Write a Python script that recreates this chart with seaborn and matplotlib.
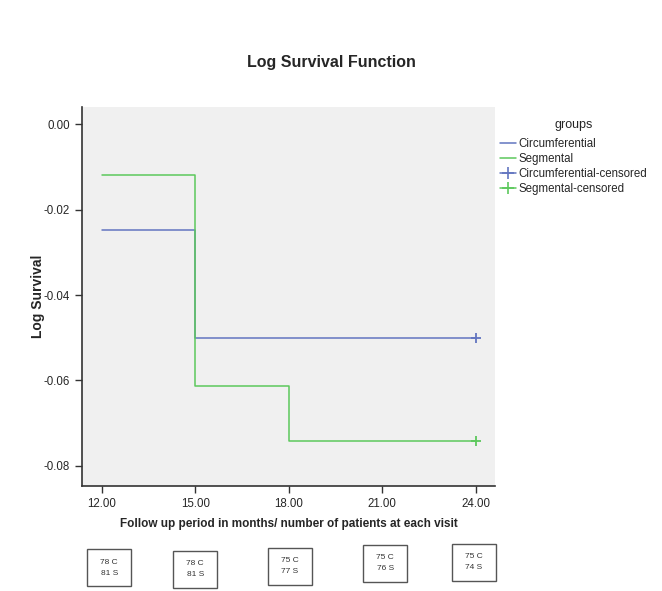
import pandas as pd
import seaborn as sns
import matplotlib.pyplot as plt
from matplotlib.lines import Line2D
from matplotlib.patches import Rectangle

months = [12, 15, 18, 24]
circumferential = [-0.0247, -0.0501, -0.0501, -0.0501]
segmental = [-0.0119, -0.0613, -0.0742, -0.0742]
censor_month = 24
censor_circ = -0.0501
censor_seg = -0.0742
box_labels = [('78 C', '81 S'), ('78 C', '81 S'), ('75 C', '77 S'),
              ('75 C', '76 S'), ('75 C', '74 S')]
xticks = [12, 15, 18, 21, 24]
yticks = [0.0, -0.02, -0.04, -0.06, -0.08]

blue = '#6275c0'
green = '#5cc85c'

df = pd.DataFrame({
    'month': months * 2,
    'log_surv': circumferential + segmental,
    'group': ['Circumferential'] * len(months) + ['Segmental'] * len(months),
})

sns.set_style('ticks')
plt.rcParams['font.family'] = ['Liberation Sans', 'DejaVu Sans']

fig = plt.figure(figsize=(6.62, 5.91), dpi=100)
ax = fig.add_axes([0.1234, 0.178, 0.625, 0.641])
ax.set_facecolor('#f0f0f0')

sns.lineplot(data=df, x='month', y='log_surv', hue='group',
             palette={'Circumferential': blue, 'Segmental': green},
             drawstyle='steps-post', linewidth=1.1, legend=False, ax=ax)
ax.plot([censor_month], [censor_circ], marker='+', color=blue, ms=7, mew=1.3)
ax.plot([censor_month], [censor_seg], marker='+', color=green, ms=7, mew=1.3)

ax.set_xlim(11.36, 24.63)
ax.set_ylim(-0.0847, 0.0041)
ax.set_xticks(xticks)
ax.set_xticklabels([f'{t:.2f}' for t in xticks])
ax.set_yticks(yticks)
ax.set_yticklabels([f'{t:.2f}' for t in yticks])
ax.tick_params(labelsize=8.3, length=5, width=1, color='#333333')
for side in ['top', 'right']:
    ax.spines[side].set_visible(False)
for side in ['left', 'bottom']:
    ax.spines[side].set_color('#333333')
    ax.spines[side].set_linewidth(1.2)

ax.set_xlabel('Follow up period in months/ number of patients at each visit',
              fontsize=8.5, fontweight='bold', labelpad=6)
ax.set_ylabel('Log Survival', fontsize=10, fontweight='bold', labelpad=-1)

fig.text(0.5, 0.895, 'Log Survival Function', ha='center', va='center',
         fontsize=11.5, fontweight='bold')

handles = [
    Line2D([], [], color=blue, lw=1.1),
    Line2D([], [], color=green, lw=1.1),
    Line2D([], [], color=blue, lw=1.1, marker='+', ms=9, mew=1.2),
    Line2D([], [], color=green, lw=1.1, marker='+', ms=9, mew=1.2),
]
labels = ['Circumferential', 'Segmental', 'Circumferential-censored',
          'Segmental-censored']
leg = fig.legend(handles, labels, title='groups', loc='upper left',
                 bbox_to_anchor=(0.748, 0.807), frameon=False, fontsize=8.3,
                 title_fontsize=9, handlelength=1.4, handletextpad=0.2,
                 labelspacing=0.28, borderaxespad=0)
leg._legend_box.align = 'center'
leg._legend_box.sep = 5

# patient-count boxes under the x axis (figure coords)
box_x = [0.165, 0.295, 0.438, 0.582, 0.716]
box_y = [0.039, 0.037, 0.042, 0.047, 0.049]
bw, bh = 44 / 662, 37 / 591
for (c, s), bx, by in zip(box_labels, box_x, box_y):
    fig.add_artist(Rectangle((bx - bw / 2, by - bh / 2), bw, bh,
                             transform=fig.transFigure, fc='white',
                             ec='#555555', lw=1.0))
    fig.text(bx, by, f'{c}\n{s}', ha='center', va='center', fontsize=6,
             color='#333333', linespacing=1.7)

fig.savefig('out.png', dpi=100)
